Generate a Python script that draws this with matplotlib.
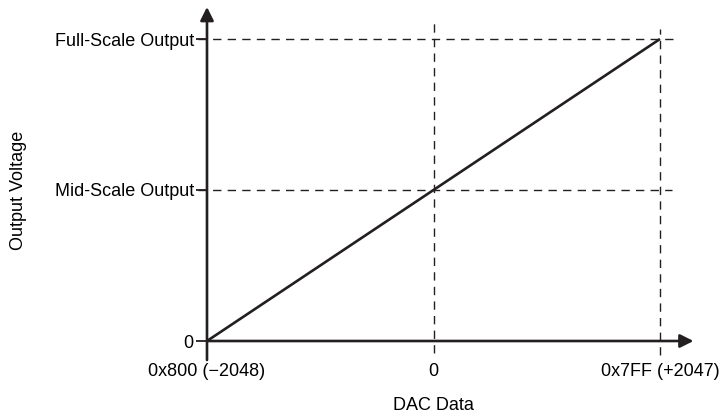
import matplotlib.pyplot as plt

plt.rcParams['font.family'] = ['Liberation Sans', 'DejaVu Sans']

# transfer function: DAC code -> output (fraction of full scale)
dac_codes = [-2048, 2047]
output = [0.0, 1.0]

x_ticks = [-2048, 0, 2047]
x_labels = ['0x800 (\u22122048)', '0', '0x7FF (+2047)']
y_ticks = [0.0, 0.5, 1.0]
y_labels = ['0', 'Mid-Scale Output', 'Full-Scale Output']

ink = '#231f20'
fs = 13
dash = (0, (6, 4.5))

fig = plt.figure(figsize=(7.2, 4.15), dpi=100)
ax = fig.add_axes([207/720, 74/415, 453/720, 302/415])
ax.set_xlim(-2048, 2047)
ax.set_ylim(0, 1)
for s in ax.spines.values():
    s.set_visible(False)

# dashed guides
ax.plot([0, 0], [-0.04, 1.056], ls=dash, color=ink, lw=1.0, clip_on=False)
ax.plot([2047, 2047], [-0.045, 1.033], ls=dash, color=ink, lw=1.0, clip_on=False)
ax.plot([-2129, 2201], [1.0, 1.0], ls=dash, color=ink, lw=1.0, clip_on=False)
ax.plot([-2129, 2155], [0.5, 0.5], ls=dash, color=ink, lw=1.0, clip_on=False)

# axes with arrows
ax.annotate('', xy=(2350, 0), xytext=(-2048, 0), annotation_clip=False,
            arrowprops=dict(arrowstyle='-|>', lw=1.9, color=ink, mutation_scale=20,
                            shrinkA=0, shrinkB=0))
ax.annotate('', xy=(-2048, 1.106), xytext=(-2048, -0.063), annotation_clip=False,
            arrowprops=dict(arrowstyle='-|>', lw=1.9, color=ink, mutation_scale=20,
                            shrinkA=0, shrinkB=0))

ax.plot(dac_codes, output, color=ink, lw=1.9, clip_on=False, solid_capstyle='butt')

ax.set_xticks(x_ticks)
ax.set_xticklabels(x_labels, fontsize=fs)
ax.tick_params(axis='x', length=0, pad=16)
ax.set_yticks(y_ticks)
ax.set_yticklabels(y_labels, fontsize=fs)
ax.tick_params(axis='y', length=8, width=1.3, color=ink, pad=1)
t0 = ax.yaxis.get_major_ticks()[0]
t0.tick1line.set_markersize(14)
t0.set_pad(2)

ax.set_xlabel('DAC Data', fontsize=fs, labelpad=12)
ax.set_ylabel('Output Voltage', fontsize=fs, labelpad=20)

fig.savefig('out.png', dpi=100)
